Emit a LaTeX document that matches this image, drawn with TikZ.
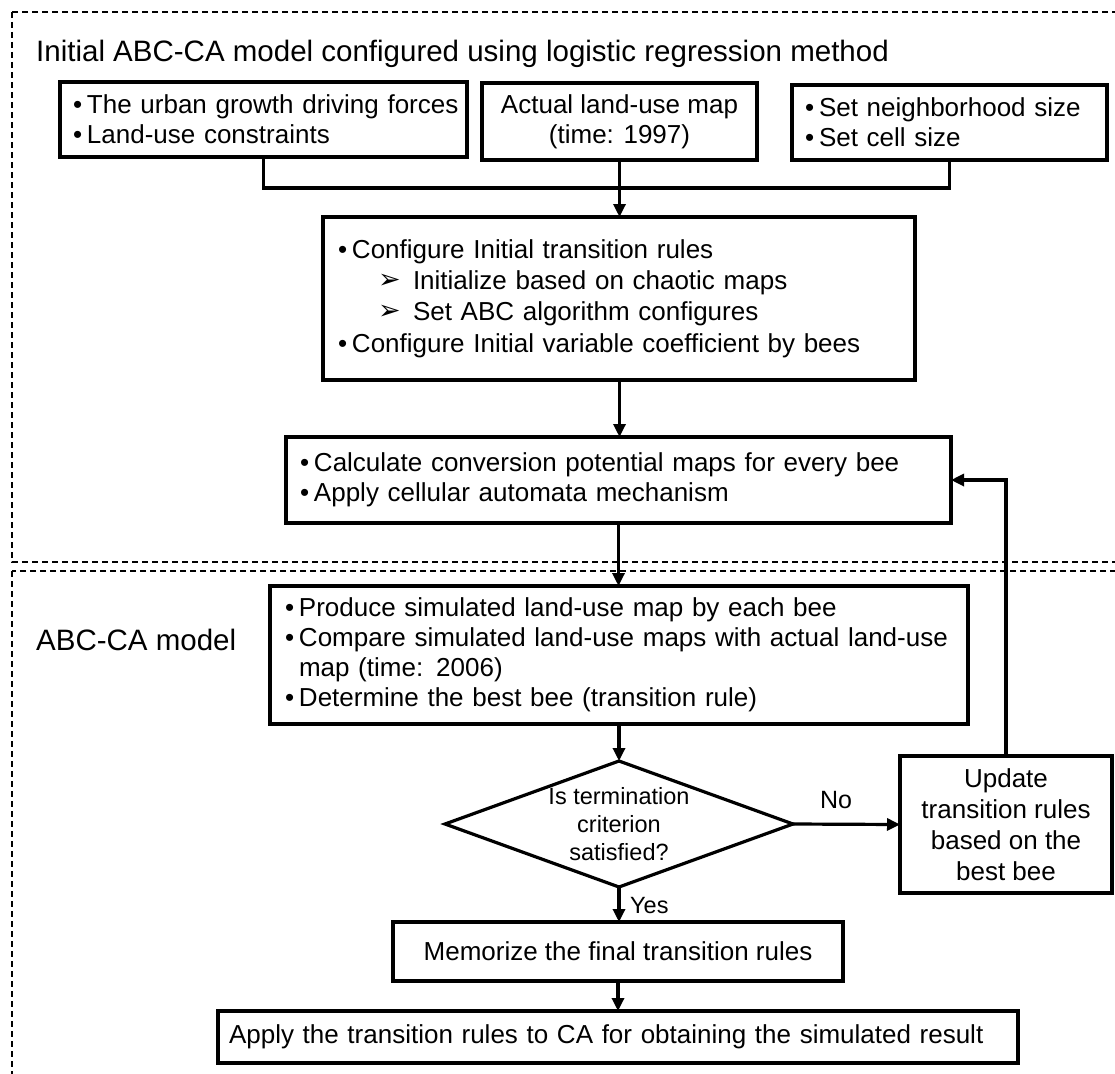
\documentclass[tikz,border=0pt]{standalone}
\usepackage{fontspec}
\setmainfont{Liberation Sans}
\newfontfamily\dejavu{DejaVu Sans}
\usetikzlibrary{arrows.meta,shapes.geometric}
\newcommand{\bulletmark}{\makebox[14pt][l]{•}}
\newcommand{\arrowmark}{\makebox[35pt][l]{\raisebox{1pt}{\dejavu\fontsize{27}{27}\selectfont ➢}}}
\newcommand{\oneline}[1]{\mbox{#1}}
\begin{document}
\begin{tikzpicture}[x=1pt,y=-1pt,
  box/.style={draw,line width=3.2pt,inner ysep=0pt,outer sep=0pt,font=\fontsize{26}{30}\selectfont},
  lbox/.style={box,align=left},
  cbox/.style={box,align=center},
  conn/.style={line width=3.2pt},
  arr/.style={line width=3.2pt,-{Triangle[length=13pt,width=12pt]}},
  region/.style={dash pattern=on 6pt off 4pt,line width=2pt},
  title/.style={inner sep=0pt,font=\fontsize{29.5}{34}\selectfont},
  lab/.style={inner sep=1pt,font=\fontsize{23.5}{28}\selectfont}]
\useasboundingbox[fill=white] (0,0) rectangle (1115,1073);
\begin{scope}
\clip (0,0) rectangle (1115,1073);
\draw[region] (12,12) rectangle (1140,562);
\draw[region] (12,571) rectangle (1140,1100);
\end{scope}
\node[title,anchor=base west] (t1) at (36,61) {Initial ABC-CA model configured using logistic regression method};
\node[title,anchor=base west] (t2) at (36,650) {ABC-CA model};
% top row
\node[lbox,minimum width=407pt,minimum height=75pt,inner xsep=13pt,text width=381pt] (b1) at (263.5,119.5)
  {\oneline{\bulletmark The urban growth driving forces}\\\oneline{\bulletmark Land-use constraints}};
\node[cbox,minimum width=275pt,minimum height=77pt] (b2) at (619.5,121.5)
  {Actual land-use map\\(time: 1997)};
\node[lbox,minimum width=315pt,minimum height=75pt,inner xsep=13pt,text width=289pt] (b3) at (949.5,122.5)
  {\oneline{\bulletmark Set neighborhood size}\\\oneline{\bulletmark Set cell size}};
\coordinate (jn) at (619.5,188);
% box 4
\node[lbox,minimum width=592pt,minimum height=163pt,inner xsep=15pt,text width=562pt,font=\fontsize{26}{31.3}\selectfont] (b4) at (619,298.5)
  {\oneline{\bulletmark Configure Initial transition rules}\\
   \oneline{\hspace*{40pt}\arrowmark Initialize based on chaotic maps}\\
   \oneline{\hspace*{40pt}\arrowmark Set ABC algorithm configures}\\
   \oneline{\bulletmark Configure Initial variable coefficient by bees}};
\node[lbox,minimum width=665pt,minimum height=86pt,inner xsep=14pt,text width=637pt] (b5) at (618.5,480)
  {\oneline{\bulletmark Calculate conversion potential maps for every bee}\\
   \oneline{\bulletmark Apply cellular automata mechanism}};
\node[lbox,minimum width=698pt,minimum height=138pt,inner xsep=15pt,text width=668pt] (b6) at (619,655)
  {\oneline{\bulletmark Produce simulated land-use map by each bee}\\
   \oneline{\bulletmark Compare simulated land-use maps with actual land-use}\\
   \oneline{\hspace*{14pt}map (time: 2006)}\\
   \oneline{\bulletmark Determine the best bee (transition rule)}};
\node[draw,line width=3.2pt,shape=diamond,minimum width=348pt,minimum height=126pt,inner sep=0pt,outer sep=0pt] (d) at (619,824) {};
\node[lab,align=center] (dt) at (d.center) {Is termination\\criterion\\satisfied?};
\node[cbox,minimum width=212pt,minimum height=137pt,font=\fontsize{26}{31}\selectfont] (b7) at (1006,824.5)
  {Update\\transition rules\\based on the\\best bee};
\node[cbox,minimum width=450pt,minimum height=59pt] (b8) at (618,951.5)
  {Memorize the final transition rules};
\node[lbox,minimum width=800pt,minimum height=52pt,inner xsep=11pt,text width=778pt] (b9) at (618,1037)
  {\oneline{Apply the transition rules to CA for obtaining the simulated result}};
\node[lab,font=\fontsize{25}{28}\selectfont] (no) at (836,800) {No};
\node[lab,anchor=west] (yes) at (629,906) {Yes};
% connectors
\draw[conn] (b1.south) |- (jn) -| (b3.south);
\draw[arr] (b2.south) -- (b2.south |- b4.north);
\draw[arr] (b2.south |- b4.south) -- (b2.south |- b5.north);
\draw[arr] (b5.south) -- (b5.south |- b6.north);
\draw[arr] (b6.south) -- (d.north);
\draw[arr] (d.east) -- (b7.west);
\draw[arr] (b7.north) |- (b5.east);
\draw[arr] (d.south) -- (d.south |- b8.north);
\draw[arr] (b8.south) -- (b8.south |- b9.north);
\end{tikzpicture}
\end{document}
